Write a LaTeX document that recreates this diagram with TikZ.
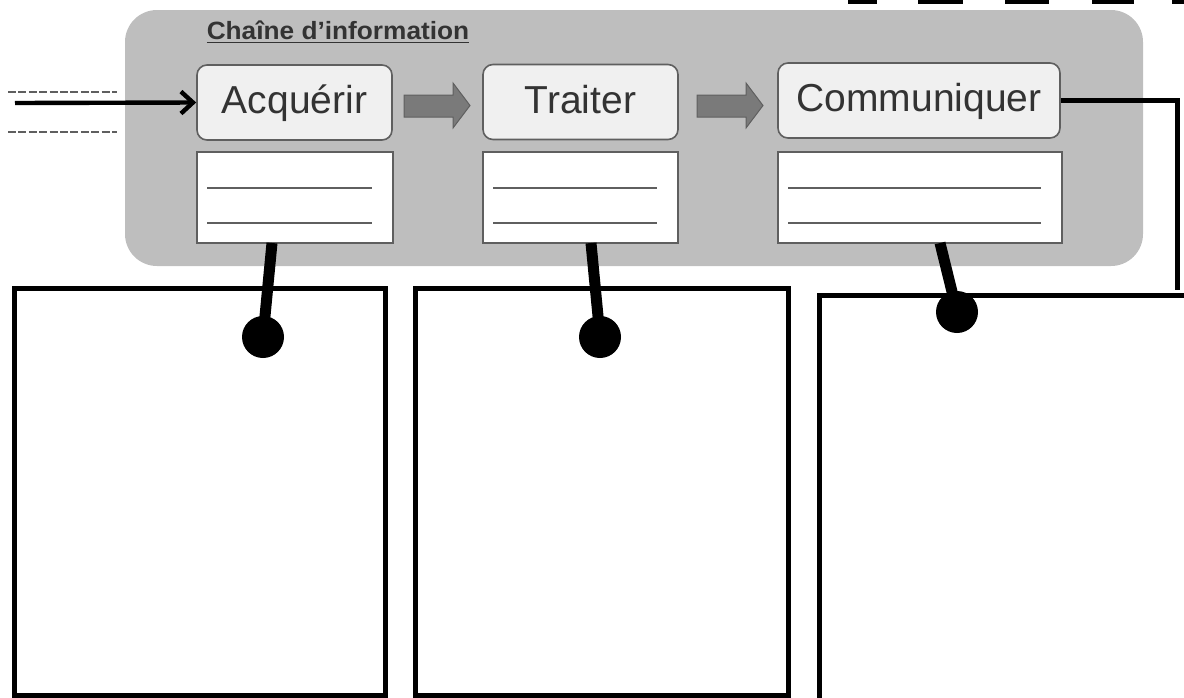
\documentclass[tikz,border=0pt]{standalone}
\usepackage{fontspec}
\setmainfont{Liberation Sans}
\usetikzlibrary{arrows.meta}
\definecolor{panelgrey}{HTML}{BEBEBE}
\definecolor{boxgrey}{HTML}{F0F0F0}
\definecolor{edgegrey}{HTML}{5F5F5F}
\definecolor{arrowgrey}{HTML}{7A7A7A}
\definecolor{inkgrey}{HTML}{333333}
\tikzset{
  fonction/.style={draw=edgegrey, fill=boxgrey, rounded corners=5pt, line width=0.8pt,
    minimum height=37.5pt, inner sep=0pt, text=inkgrey, text height=14pt, text depth=3pt,
    font=\fontsize{19.5}{22}\selectfont},
  note/.style={draw=edgegrey, fill=white, line width=0.8pt, minimum height=45.5pt, inner sep=0pt},
  cadre/.style={draw, line width=2.5pt, inner sep=0pt},
  dot/.style={circle, fill, minimum size=21pt, inner sep=0pt},
  plug/.style={line width=5.5pt},
  blockarrow/.style={fill=arrowgrey, draw=edgegrey, line width=0.5pt}
}
\begin{document}
\begin{tikzpicture}[x=0.5pt, y=-0.5pt, >={Straight Barb[length=6pt,width=11pt]}]
  \useasboundingbox (0,0) rectangle (1184,697);
  \clip (0,0) rectangle (1184,697);
  % chaine d'information
  \fill [panelgrey, rounded corners=16pt] (125,10) rectangle (1143,266);
  \node [font=\bfseries\fontsize{12.5}{14}\selectfont, text=inkgrey, xscale=1.05] (titre) at (338,32) {\underline{Chaîne d’information}};
  \node [fonction, minimum width=97.5pt] (acq) at (294.5,102.5) {Acquérir};
  \node [fonction, minimum width=97.5pt] (trait) at (580.5,102) {Traiter};
  \node [fonction, minimum width=141pt] (comm) at (919,100.5) {Communiquer};
  \node [note, minimum width=98pt] (acqnote) at (295,197.5) {};
  \node [note, minimum width=97.5pt] (traitnote) at (580.5,197.5) {};
  \node [note, minimum width=142pt] (commnote) at (920,197.5) {};
  \foreach \n in {acqnote,traitnote,commnote}{
    \draw [edgegrey, line width=1pt] ([shift={(11,-21)}]\n.south west) -- ([shift={(-22,-21)}]\n.south east);
    \draw [edgegrey, line width=1pt] ([shift={(11,-56)}]\n.south west) -- ([shift={(-22,-56)}]\n.south east);
  }
  \def\arrowpath{-- ++(49,0) -- ++(0,-12) -- ++(17,22.5) -- ++(-17,22.5) -- ++(0,-11) -- ++(-49,0) -- cycle}
  \draw [blockarrow] (404,95) \arrowpath;
  \draw [blockarrow] (697,95) \arrowpath;
  % entree
  \draw [edgegrey, line width=0.6pt, dash pattern=on 4pt off 1.2pt] (8,92) -- (117,92);
  \draw [edgegrey, line width=0.6pt, dash pattern=on 4pt off 1.2pt] (8,132) -- (117,132);
  \coordinate (entree) at (15,103);
  \draw [->, line width=2.2pt] (entree) -- (acq.west);
  % cadres du bas
  \node [cadre, minimum width=185.5pt, minimum height=203.5pt] (acqcadre) at (199.5,491.5) {};
  \node [cadre, minimum width=186.5pt, minimum height=203.5pt] (traitcadre) at (601.5,491.5) {};
  \node [cadre, minimum width=200pt, minimum height=217.5pt] (commcadre) at (1019.5,512.5) {};
  \coordinate (sortie) at (1177,290);
  \draw [line width=2.5pt] (comm.east) -| (sortie);
  \coordinate (acqpin) at (272,243);
  \coordinate (traitpin) at (591,243);
  \coordinate (commpin) at (940,243);
  \node [dot] (acqdot) at (263,337) {};
  \node [dot] (traitdot) at (600,337) {};
  \node [dot] (commdot) at (957,312) {};
  \draw [plug] (acqpin) -- (acqdot.center);
  \draw [plug] (traitpin) -- (traitdot.center);
  \draw [plug] (commpin) -- (commdot.center);
  % bord du haut
  \foreach \a/\b in {848/877, 918/963, 1005/1049, 1092/1134, 1172/1190}
    \fill (\a,0) rectangle (\b,4);
\end{tikzpicture}
\end{document}
